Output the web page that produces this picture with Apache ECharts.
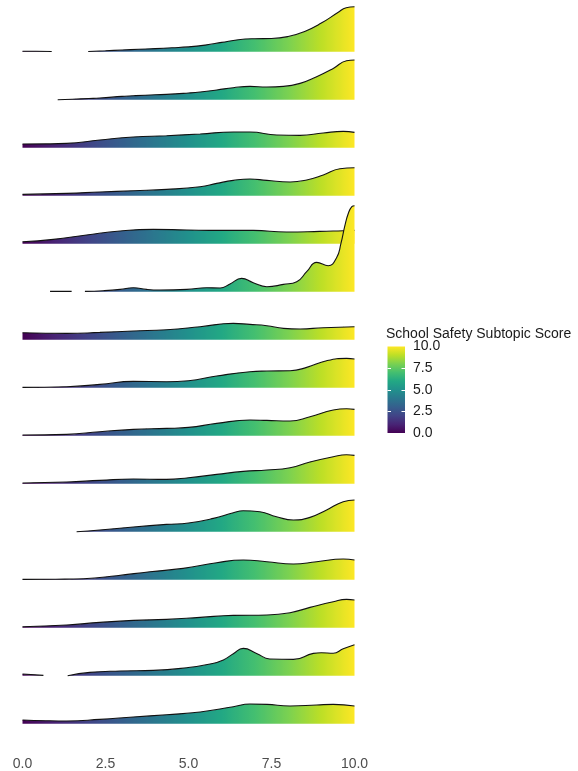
<!DOCTYPE html>
<html><head><meta charset="utf-8">
<script src="https://cdn.jsdelivr.net/npm/echarts@6/dist/echarts.min.js"></script>
<style>html,body{margin:0;padding:0;background:#fff}#c{width:578px;height:771px}</style>
</head><body><div id="c"></div>
<script>
// ---- data (score, density in relative units) ----
const xTicks = [0, 2.5, 5, 7.5, 10];
const legendTicks = [0, 2.5, 5, 7.5, 10];
const legendTitle = 'School Safety Subtopic Score';
const viridis = ['#440154','#482475','#414487','#355f8d','#2a788e','#21918c','#22a884','#44bf70','#7ad151','#bddf26','#fde725'];

const ridge01 = [[0,0.5],[0.4,0.5],[0.88,0.2],[1.4,null],[1.98,0.2],[2.5,0.9],[3,1.7],[3.5,2.4],[4,3.1],[4.5,3.9],[5,4.8],[5.5,6.6],[6,9.3],[6.5,12],[7,13],[7.5,13.2],[8,15.2],[8.5,20.3],[9,28.6],[9.5,39.2],[9.75,44],[10,45]];
const ridge02 = [[1.06,0],[1.5,0.5],[2,1.2],[2.33,1.7],[3,3.3],[3.34,4],[4,5],[4.34,5.3],[5,6.7],[5.35,7.7],[5.85,9.7],[6.35,12],[6.85,13.3],[7.36,12.7],[7.86,13.3],[8.36,16.3],[8.86,23],[9.36,31.3],[9.76,39],[10,39.7]];
const ridge03 = [[0,3.7],[0.7,3.8],[1.33,4.3],[2.33,7.7],[3.34,10.7],[4.34,12],[5.35,13.7],[6.35,15.7],[6.85,15.7],[7.66,12.7],[8.36,12.3],[9.06,14.7],[9.66,16.3],[10,15.3]];
const ridge04 = [[0,1.3],[1.33,2.3],[2.33,3.7],[3.34,5],[4.34,6.3],[5.35,9],[5.85,12.3],[6.35,15.3],[6.85,16.7],[7.36,15.3],[8.06,13.7],[8.56,15.7],[9.06,20.7],[9.56,27],[10,28]];
const ridge05 = [[0,2],[0.93,4.3],[1.93,8.7],[2.94,12.7],[3.94,14.3],[4.95,13.7],[5.95,13.3],[6.95,13.3],[7.95,11.7],[8.95,12.3],[9.66,13],[10,13.3]];
const ridge06 = [[0.83,0.3],[1.48,0.3],[1.7,null],[1.88,0.3],[2.43,1],[2.94,2.3],[3.34,4],[3.74,2.3],[4.14,1.7],[4.95,2.3],[5.55,4],[5.95,3.7],[6.25,7.7],[6.6,13.3],[6.95,9],[7.36,5],[7.86,7.3],[8.26,10],[8.56,20],[8.86,29.3],[9.21,26],[9.46,34],[9.59,48],[9.71,66],[9.82,79],[9.92,85],[10,86]];
const ridge07 = [[0,7],[0.7,6.5],[1.33,6.3],[2.33,7.3],[3.34,8.7],[4.34,10],[5.35,13],[6.35,16.3],[6.85,15.3],[7.36,14],[7.86,11.3],[8.36,10.7],[9.06,12],[10,13]];
const ridge08 = [[0,0.3],[1.33,1],[2.33,3.3],[3.34,6.3],[4.34,6],[5.0,7],[5.85,11.7],[6.85,16],[7.36,16.7],[8.06,17],[8.56,20.3],[9.16,27],[9.76,29.3],[10,28.7]];
const ridge09 = [[0,0.7],[1.33,1.3],[2.33,4],[3.34,6.3],[4.34,7.3],[5.0,8.3],[5.85,12.3],[6.85,15.7],[7.36,15.3],[8.06,14.7],[8.66,19],[9.36,25.7],[9.76,27],[10,26.3]];
const ridge10 = [[0,0.7],[1.33,1.7],[2.33,3.3],[3.34,4.7],[4.34,4.3],[5.0,6],[5.85,9.3],[6.65,12.3],[7.36,13.7],[8.06,16],[8.66,21.7],[9.36,27],[9.76,29],[10,28.3]];
const ridge11 = [[1.63,0],[2.33,1.7],[3.34,4.7],[4.34,7.3],[5.0,8.7],[5.75,13.3],[6.35,19],[6.65,21],[7.15,20],[7.65,15],[8.16,11.7],[8.66,14.3],[9.16,21.7],[9.66,30],[10,31.7]];
const ridge12 = [[0,0.3],[1.0,0.5],[1.83,1],[2.84,4],[3.84,8],[4.84,11.3],[5.85,17],[6.65,19.7],[7.36,18],[8.16,15.7],[8.86,18],[9.66,20.7],[10,19.7]];
const ridge13 = [[0,1],[1.33,2.7],[2.33,5.3],[3.34,7.3],[4.34,8.3],[5.35,10.3],[6.35,12.3],[7.36,12.7],[8.06,15],[8.66,20.3],[9.36,26],[9.76,28.3],[10,27.7]];
const ridge14 = [[0,1.7],[0.63,0.3],[1.0,null],[1.36,0],[2.03,3.3],[2.94,4.7],[3.94,5.3],[4.95,8],[5.65,11.7],[6.05,15.7],[6.35,22],[6.65,27.3],[7.05,22.3],[7.45,16.7],[8.16,16.3],[8.76,22.3],[9.0,23],[9.36,22.5],[9.66,27],[10,31]];
const ridge15 = [[0,3.7],[0.7,3],[1.33,2.7],[2.33,4.3],[3.34,6.7],[4.34,9],[5.35,11.7],[6.35,17],[6.85,19.7],[7.36,19.3],[8.06,17.7],[8.86,18.7],[9.36,19.3],[10,17.7]];

const ridges = [ridge01,ridge02,ridge03,ridge04,ridge05,ridge06,ridge07,ridge08,ridge09,ridge10,ridge11,ridge12,ridge13,ridge14,ridge15];

// ---- chart ----
const DENSITY_SCALE = 1 / 48;
const FONT = '"Liberation Sans", Arial, sans-serif';
const n = ridges.length;
const chart = echarts.init(document.getElementById('c'), null, {renderer: 'canvas'});

const ridgeSeries = ridges.map((r, i) => {
  const base = n - 1 - i;
  return {
    type: 'line', xAxisIndex: 0, yAxisIndex: 0,
    data: r.map(p => [p[0], p[1] == null ? null : base + p[1] * DENSITY_SCALE]),
    smooth: 0.5,
    symbol: 'none', showSymbol: false, silent: true,
    connectNulls: false,
    lineStyle: {color: '#111', width: 1.1},
    areaStyle: {origin: base, opacity: 1},
    emphasis: {disabled: true},
    z: 2 + i
  };
});

const barGradient = new echarts.graphic.LinearGradient(0, 1, 0, 0,
  viridis.map((c, k) => ({offset: k / (viridis.length - 1), color: c})));

const option = {
  animation: false,
  backgroundColor: '#fff',
  textStyle: {fontFamily: FONT},
  grid: [
    {left: 22.5, right: 223.5, top: 3.7, bottom: 47.3, outerBoundsMode: 'none'},
    {left: 387.5, top: 346.5, width: 17.5, height: 86.5, outerBoundsMode: 'none'}
  ],
  xAxis: [
    {type: 'value', gridIndex: 0, min: xTicks[0], max: xTicks[xTicks.length - 1], interval: 2.5,
     axisLine: {show: false}, axisTick: {show: false}, splitLine: {show: false},
     axisLabel: {margin: 33, fontSize: 14, color: '#4d4d4d', fontFamily: FONT,
                 formatter: v => v.toFixed(1)}},
    {type: 'category', gridIndex: 1, data: [''], show: false}
  ],
  yAxis: [
    {type: 'value', gridIndex: 0, min: 0, max: n, show: false},
    {type: 'value', gridIndex: 1, min: legendTicks[0], max: legendTicks[legendTicks.length - 1], interval: 2.5,
     position: 'right', z: 10,
     axisLine: {show: false}, splitLine: {show: false},
     axisTick: {show: true, inside: true, length: 3.5, lineStyle: {color: '#fff', width: 1}, customValues: [2.5, 5, 7.5]},
     axisLabel: {margin: 8, fontSize: 14, color: '#1a1a1a', fontFamily: FONT, formatter: v => v.toFixed(1)}},
    {type: 'value', gridIndex: 1, min: 0, max: 10, interval: 2.5, position: 'left', z: 10,
     axisLine: {show: false}, splitLine: {show: false}, axisLabel: {show: false},
     axisTick: {show: true, inside: true, length: 3.5, lineStyle: {color: '#fff', width: 1}, customValues: [2.5, 5, 7.5]}}
  ],
  visualMap: {
    type: 'continuous', show: false, dimension: 0, min: 0, max: 10,
    seriesIndex: ridgeSeries.map((_, i) => i),
    inRange: {color: viridis}
  },
  graphic: [
    {type: 'text', left: 386, top: 327,
     style: {text: legendTitle, font: '14px ' + FONT, fill: '#1a1a1a'}}
  ],
  series: ridgeSeries.concat([
    {type: 'bar', xAxisIndex: 1, yAxisIndex: 1, data: [legendTicks[legendTicks.length - 1]],
     barWidth: '100%', silent: true, itemStyle: {color: barGradient}, z: 1}
  ])
};
chart.setOption(option);
</script>
</body></html>
